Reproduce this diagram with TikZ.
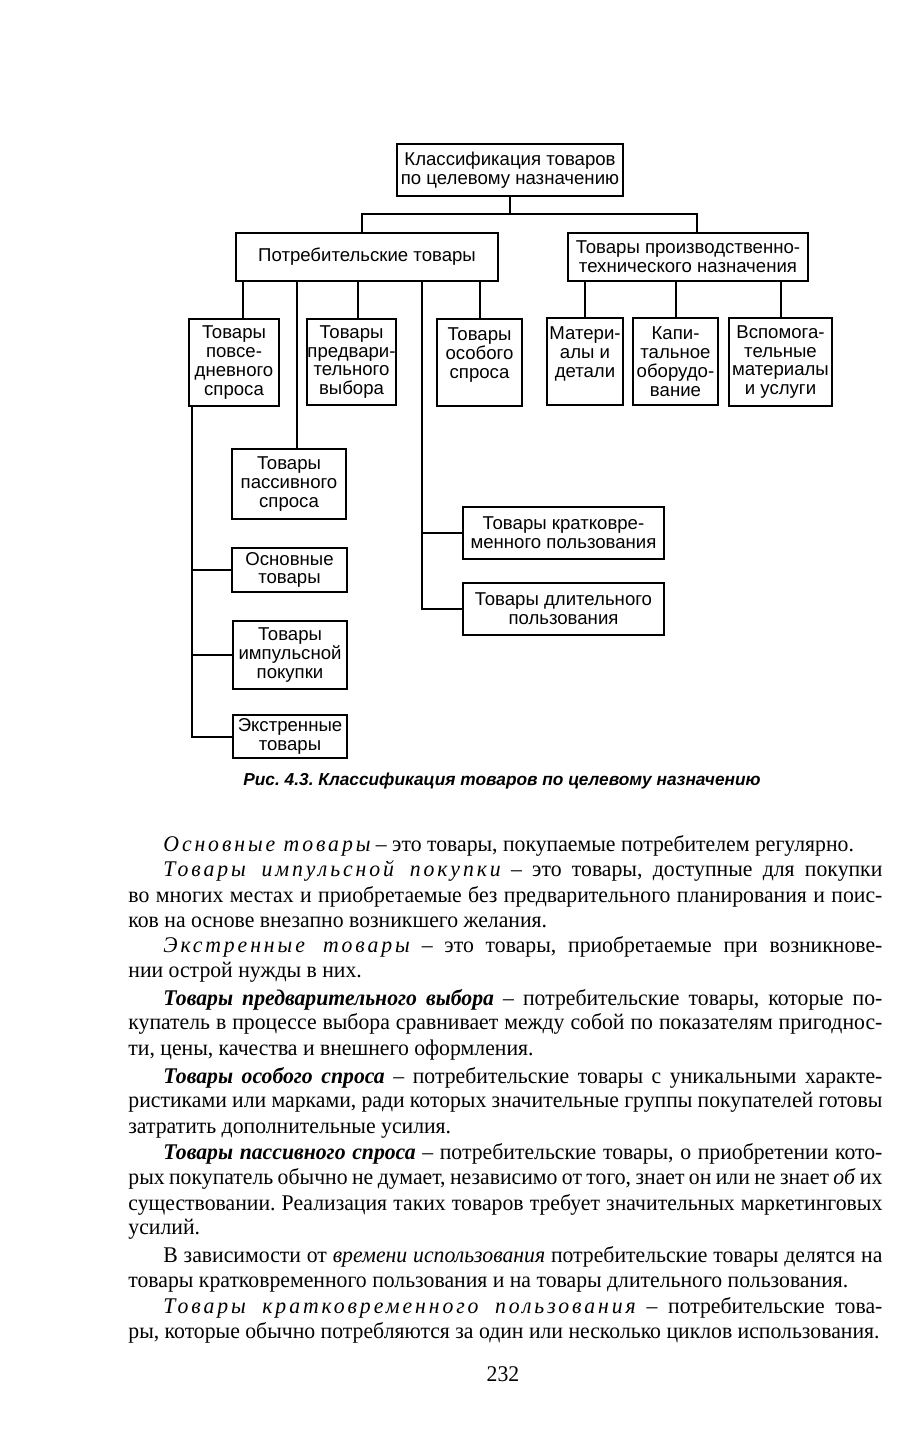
\documentclass[tikz,border=0pt]{standalone}
\usepackage{fontspec}
\setmainfont{Liberation Serif}[FakeStretch=0.97]
\newfontfamily\diagfont{Liberation Sans}
\frenchspacing

% spaced italic and bold italic terms
\newcommand{\razr}[1]{{\itshape\addfontfeature{LetterSpace=13}#1}}
\newcommand{\bi}[1]{{\bfseries\itshape #1}}
% justified lines of the body text
\newcommand{\indline}[1]{\makebox[359.5pt][s]{#1}}
\newcommand{\fullline}[1]{\makebox[377pt][s]{#1}}

\begin{document}
\begin{tikzpicture}[x = 0.5pt, y = -0.5pt,
  box/.style = {draw, line width = 1pt, inner sep = 0pt, align = center,
    font = \diagfont\fontsize{9.3}{9.4}\selectfont},
  boxsize/.style 2 args = {minimum width = #1*0.5pt, minimum height = #2*0.5pt},
  link/.style = {line width = 1pt},
  txt/.style = {anchor = base west, inner sep = 0pt, font = \fontsize{11.2}{12}\selectfont}]
\useasboundingbox (0,0) rectangle (922,1444);
\fill[white] (0,0) rectangle (922,1444);

% boxes
\node[box, boxsize = {226}{52}] (klass) at (510, 170) {Классификация товаров\\по целевому назначению};
\node[box, boxsize = {262}{48}] (potr) at (367, 257) {Потребительские товары};
\node[box, boxsize = {240}{48}] (proizv) at (688, 257) {Товары производственно-\\технического назначения};

\node[box, boxsize = {90}{87}] (povs) at (234, 362.5) {Товары\\повсе-\\дневного\\спроса};
\node[box, boxsize = {81}{86}] (pred) at (351.5, 362) {Товары\\предвари-\\тельного\\выбора};
\node[box, boxsize = {85}{87}] (osob) at (479.5, 362.5) {Товары\\особого\\спроса\\~};
\node[box, boxsize = {114}{70}] (pass) at (289, 484) {Товары\\пассивного\\спроса};
\node[box, boxsize = {115}{44}] (osn) at (289.5, 570) {Основные\\товары};
\node[box, boxsize = {114}{68}] (imp) at (290, 655) {Товары\\импульсной\\покупки};
\node[box, boxsize = {114}{43}] (ekst) at (290, 736.5) {Экстренные\\товары};
\node[box, boxsize = {201}{52}] (krat) at (563.5, 533) {Товары кратковре-\\менного пользования};
\node[box, boxsize = {201}{52}] (dlit) at (563.5, 609) {Товары длительного\\пользования};

\node[box, boxsize = {76}{87}] (mat) at (585, 361.5) {Матери-\\алы и\\детали\\~};
\node[box, boxsize = {85}{87}] (kap) at (675.5, 361.5) {Капи-\\тальное\\оборудо-\\вание};
\node[box, boxsize = {103}{88}] (vsp) at (780.5, 362) {Вспомога-\\тельные\\материалы\\и услуги};

% connectors
\draw[link] (klass.south) -- ++(0, 17) coordinate (hub);
\draw[link] ([xshift = -2.5pt]potr.north) |- (hub) -| ([xshift = 4.5pt]proizv.north);

\coordinate (c1) at ([xshift = 4.5pt]povs.north);
\coordinate (c2) at ([xshift = 3pt]pred.north);
\coordinate (c3) at ([xshift = 4pt]pass.north);
\draw[link] (c1) -- (c1 |- potr.south);
\draw[link] (c2) -- (c2 |- potr.south);
\draw[link] (c3) -- (c3 |- potr.south);
\draw[link] (osob.north) -- (osob.north |- potr.south);

\coordinate (rt) at ([xshift = 27.5pt]potr.south);
\draw[link] (rt) |- (dlit.west);
\draw[link] (krat.west) -- (krat.west -| rt);

\coordinate (lt) at ([xshift = 2pt]povs.south west);
\draw[link] (lt) |- (ekst.west);
\draw[link] (osn.west) -- (osn.west -| lt);
\draw[link] (imp.west) -- (imp.west -| lt);

\foreach \c in {mat, kap, vsp}
  \draw[link] (\c.north) -- (\c.north |- proizv.south);

% caption
\node[anchor = base, inner sep = 0pt, font = \diagfont\bfseries\itshape\fontsize{8.65}{10}\selectfont] (cap) at (502, 785)
  {Рис. 4.3. Классификация товаров по целевому назначению};

% body text
\node[txt] (t1) at (163, 851) {\razr{Основные товары} – это товары, покупаемые потребителем регулярно.};
\node[txt] (t2) at (163, 876) {\indline{\razr{Товары импульсной покупки} – это товары, доступные для покупки}};
\node[txt] (t3) at (128, 902) {\fullline{во многих местах и приобретаемые без предварительного планирования и поис-}};
\node[txt] (t4) at (128, 927) {ков на основе внезапно возникшего желания.};
\node[txt] (t5) at (163, 952) {\indline{\razr{Экстренные товары} – это товары, приобретаемые при возникнове-}};
\node[txt] (t6) at (128, 977) {нии острой нужды в них.};
\node[txt] (t7) at (163, 1005) {\indline{\bi{Товары предварительного выбора} – потребительские товары, которые по-}};
\node[txt] (t8) at (128, 1029) {\fullline{купатель в процессе выбора сравнивает между собой по показателям пригоднос-}};
\node[txt] (t9) at (128, 1055) {ти, цены, качества и внешнего оформления.};
\node[txt] (t10) at (163, 1083) {\indline{\bi{Товары особого спроса} – потребительские товары с уникальными характе-}};
\node[txt] (t11) at (128, 1107) {\fullline{ристиками или марками, ради которых значительные группы покупателей готовы}};
\node[txt] (t12) at (128, 1133) {затратить дополнительные усилия.};
\node[txt] (t13) at (163, 1159) {\indline{\bi{Товары пассивного спроса} – потребительские товары, о приобретении кото-}};
\node[txt] (t14) at (128, 1184) {\fullline{рых покупатель обычно не думает, независимо от того, знает он или не знает \textit{об} их}};
\node[txt] (t15) at (128, 1210) {\fullline{существовании. Реализация таких товаров требует значительных маркетинговых}};
\node[txt] (t16) at (128, 1234) {усилий.};
\node[txt] (t17) at (163, 1262) {\indline{В зависимости от \textit{времени использования} потребительские товары делятся на}};
\node[txt] (t18) at (128, 1287) {товары кратковременного пользования и на товары длительного пользования.};
\node[txt] (t19) at (163, 1313) {\indline{\razr{Товары кратковременного пользования} – потребительские това-}};
\node[txt] (t20) at (128, 1338) {ры, которые обычно потребляются за один или несколько циклов использования.};
\node[anchor = base, inner sep = 0pt, font = \fontsize{11.2}{12}\selectfont] (page) at (503, 1381) {232};
\end{tikzpicture}
\end{document}
